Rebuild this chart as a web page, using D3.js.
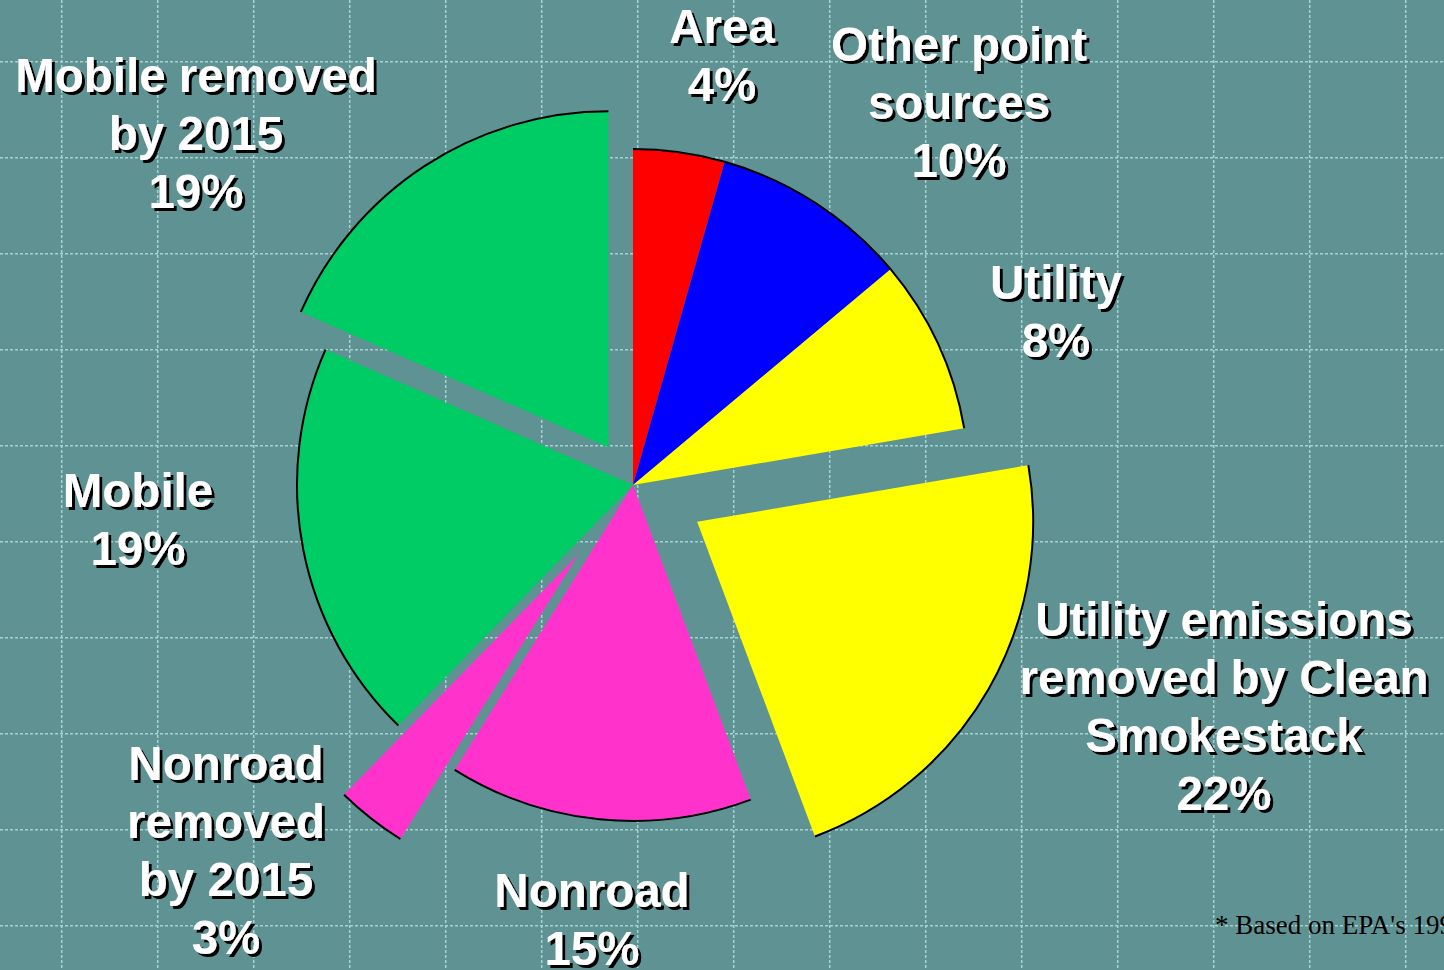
<!DOCTYPE html>
<html>
<head>
<meta charset="utf-8">
<script src="https://cdn.jsdelivr.net/npm/d3@7"></script>
<style>
  html, body { margin: 0; padding: 0; background: #5f9393; overflow: hidden; }
</style>
</head>
<body>
<div id="chart"></div>
<script>
// data
const categories = ["Area", "Other point sources", "Utility", "Utility emissions removed by Clean Smokestack",
    "Nonroad", "Nonroad removed by 2015", "Mobile", "Mobile removed by 2015"];
const values = [4.4, 9.5, 8.4, 22, 14.6, 3.4, 19.3, 18.4];
const pctLabels = ["4%", "10%", "8%", "22%", "15%", "3%", "19%", "19%"];
const labelLines = [
    ["Area"],
    ["Other point", "sources"],
    ["Utility"],
    ["Utility emissions", "removed by Clean", "Smokestack"],
    ["Nonroad"],
    ["Nonroad", "removed", "by 2015"],
    ["Mobile"],
    ["Mobile removed", "by 2015"]
];

// layout
const width = 1444, height = 970;
const cx = 633, cy = 485, radius = 336;
const explodeDist = [0, 0, 0, 74, 0, 88, 0, 45];
const colors = ["#ff0000", "#0000ff", "#ffff00", "#ffff00", "#ff33cc", "#ff33cc", "#00cc66", "#00cc66"];
const labelPos = [
    { x: 722, y: 43 },
    { x: 959, y: 61 },
    { x: 1056, y: 299 },
    { x: 1224, y: 636 },
    { x: 592, y: 907 },
    { x: 226, y: 780 },
    { x: 138, y: 507 },
    { x: 196, y: 92 }
];
const lineH = 58;

const svg = d3.select("#chart").append("svg")
    .attr("width", width)
    .attr("height", height)
    .style("display", "block");

// hard black drop shadow for the white labels
svg.append("defs").append("filter")
    .attr("id", "shadow")
    .attr("x", "-10%").attr("y", "-10%")
    .attr("width", "130%").attr("height", "140%")
    .append("feDropShadow")
    .attr("dx", 3).attr("dy", 3)
    .attr("stdDeviation", 0)
    .attr("flood-color", "#000")
    .attr("flood-opacity", 1);

svg.append("rect").attr("width", width).attr("height", height).attr("fill", "#5f9393");

// background grid
const grid = svg.append("g")
    .attr("stroke", "#a8d2d2")
    .attr("stroke-width", 1.5)
    .attr("stroke-dasharray", "3,2");
grid.selectAll("line.v")
    .data(d3.range(61.7, width, 96))
    .join("line")
    .attr("x1", d => d).attr("x2", d => d)
    .attr("y1", 0).attr("y2", height);
grid.selectAll("line.h")
    .data(d3.range(61.7, height, 96))
    .join("line")
    .attr("x1", 0).attr("x2", width)
    .attr("y1", d => d).attr("y2", d => d);

// pie
const pie = d3.pie().sort(null).value(d => d.value);
const arcs = pie(values.map((v, i) => ({ value: v, i: i })));

const arc = d3.arc().innerRadius(0).outerRadius(radius);
const rim = d3.arc().innerRadius(radius).outerRadius(radius);

const slices = svg.append("g")
    .attr("transform", `translate(${cx},${cy})`)
    .selectAll("g")
    .data(arcs)
    .join("g")
    .attr("transform", d => {
        const a = (d.startAngle + d.endAngle) / 2;
        const k = explodeDist[d.index];
        return `translate(${k * Math.sin(a)},${-k * Math.cos(a)})`;
    });

slices.append("path")
    .attr("d", arc)
    .attr("fill", d => colors[d.index]);

// outline only on the outer edge
slices.append("path")
    .attr("d", rim)
    .attr("fill", "none")
    .attr("stroke", "#000")
    .attr("stroke-width", 2);

// labels
const labels = svg.append("g")
    .attr("font-family", "'Liberation Sans', Arial, sans-serif")
    .attr("font-weight", "bold")
    .attr("font-size", 47.5)
    .attr("text-anchor", "middle")
    .attr("fill", "#fff")
    .attr("filter", "url(#shadow)");

categories.forEach((c, i) => {
    const lines = labelLines[i].concat([pctLabels[i]]);
    const p = labelPos[i];
    const t = labels.append("text").attr("class", "label");
    lines.forEach((s, j) => {
        t.append("tspan")
            .attr("x", p.x)
            .attr("y", p.y + j * lineH)
            .text(s);
    });
});

// footnote
svg.append("text")
    .attr("x", 1215)
    .attr("y", 934)
    .attr("font-family", "'Liberation Serif', 'Times New Roman', serif")
    .attr("font-size", 27)
    .attr("fill", "#000")
    .text("* Based on EPA's 1996 NTI");
</script>
</body>
</html>
